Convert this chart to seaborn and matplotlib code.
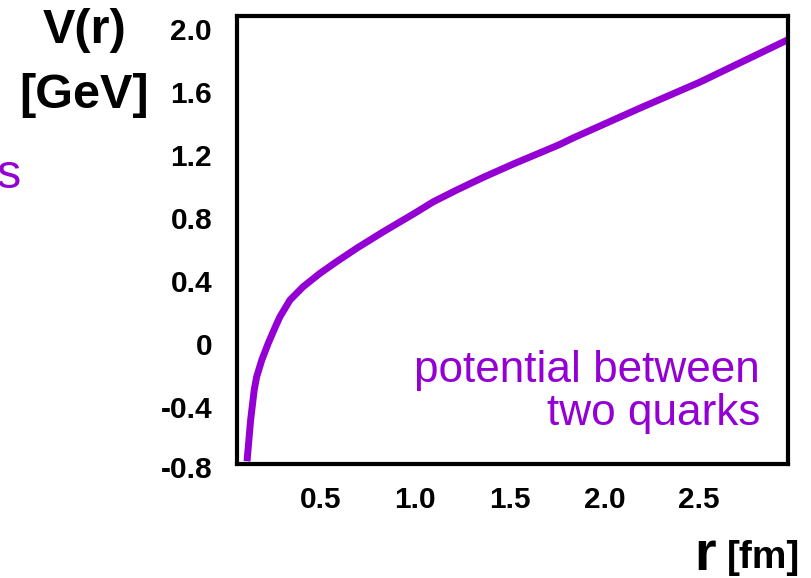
import matplotlib
matplotlib.use("Agg")
import matplotlib.pyplot as plt
import seaborn as sns
import pandas as pd

# Quark-antiquark potential V(r)
r_fm = [0.110, 0.129, 0.148, 0.161, 0.188, 0.222, 0.262, 0.284, 0.337, 0.407,
        0.496, 0.584, 0.690, 0.831, 0.989, 1.095, 1.219, 1.359, 1.518, 1.659,
        1.756, 1.834, 2.188, 2.505, 2.970]
v_gev = [-0.745, -0.483, -0.292, -0.208, -0.102, 0.004, 0.115, 0.173, 0.279, 0.364,
         0.449, 0.523, 0.608, 0.713, 0.825, 0.903, 0.978, 1.058, 1.143, 1.214,
         1.263, 1.308, 1.498, 1.663, 1.932]

x_ticks = [0.5, 1.0, 1.5, 2.0, 2.5]
x_tick_labels = ["0.5", "1.0", "1.5", "2.0", "2.5"]
y_ticks = [2.0, 1.6, 1.2, 0.8, 0.4, 0.0, -0.4]
y_tick_labels = ["2.0", "1.6", "1.2", "0.8", "0.4", "0", "-0.4"]
y_low_tick = -0.8
y_low_label = "-0.8"

PURPLE = "#9400D3"
W, H = 811, 578

sns.set_style("white")
plt.rcParams["font.family"] = ["Liberation Sans", "DejaVu Sans"]
plt.rcParams["text.color"] = "black"
plt.rcParams["xtick.color"] = "black"
plt.rcParams["ytick.color"] = "black"
plt.rcParams["axes.labelcolor"] = "black"

fig = plt.figure(figsize=(W / 100, H / 100), dpi=100)
ax = fig.add_axes([237 / W, 1 - 464 / H, (788 - 237) / W, (464 - 16) / H])

df = pd.DataFrame({"r": r_fm, "V": v_gev})
sns.lineplot(data=df, x="r", y="V", ax=ax, color=PURPLE, linewidth=5,
             solid_capstyle="butt", solid_joinstyle="round")

ax.set_xlim(0.057, 2.971)
ax.set_ylim(-0.762, 2.083)

ax.set_xticks(x_ticks)
ax.set_xticklabels(x_tick_labels)
ax.set_yticks(y_ticks)
ax.set_yticklabels(y_tick_labels)
ax.tick_params(axis="both", length=0, labelsize=21.5, labelcolor="black")
ax.tick_params(axis="y", pad=18)
ax.tick_params(axis="x", pad=16)
for lab in ax.get_xticklabels() + ax.get_yticklabels():
    lab.set_fontweight("bold")

# the lowest label sits just under the frame
ax.annotate(y_low_label, xy=(0, y_low_tick), xycoords=("axes fraction", "data"),
            xytext=(-18, 0), textcoords="offset points", ha="right", va="center",
            fontsize=21.5, fontweight="bold", color="black", annotation_clip=False)

ax.set_xlabel("")
ax.set_ylabel("")
for s in ax.spines.values():
    s.set_visible(True)
    s.set_color("black")
    s.set_linewidth(3)


def fx(x):
    return x / W


def fy(y):
    return 1 - y / H


# axis titles
fig.text(fx(85), fy(43), "V(r)", ha="center", va="baseline", fontsize=35,
         fontweight="bold", color="black")
fig.text(fx(84), fy(108), "[GeV]", ha="center", va="baseline", fontsize=35,
         fontweight="bold", color="black")
fig.text(fx(694), fy(570), "r", ha="left", va="baseline", fontsize=40,
         fontweight="bold", color="black")
fig.text(fx(727), fy(568), "[fm]", ha="left", va="baseline", fontsize=28,
         fontweight="bold", color="black")

# annotation inside the frame
fig.text(fx(760), fy(382), "potential between", ha="right", va="baseline",
         fontsize=31.8, color=PURPLE)
fig.text(fx(760), fy(425), "two quarks", ha="right", va="baseline",
         fontsize=31.8, color=PURPLE)

# fragment of neighbouring text at the left edge
fig.text(fx(-3), fy(188), "s", ha="left", va="baseline", fontsize=35, color=PURPLE)

fig.savefig("out.png", dpi=100)
